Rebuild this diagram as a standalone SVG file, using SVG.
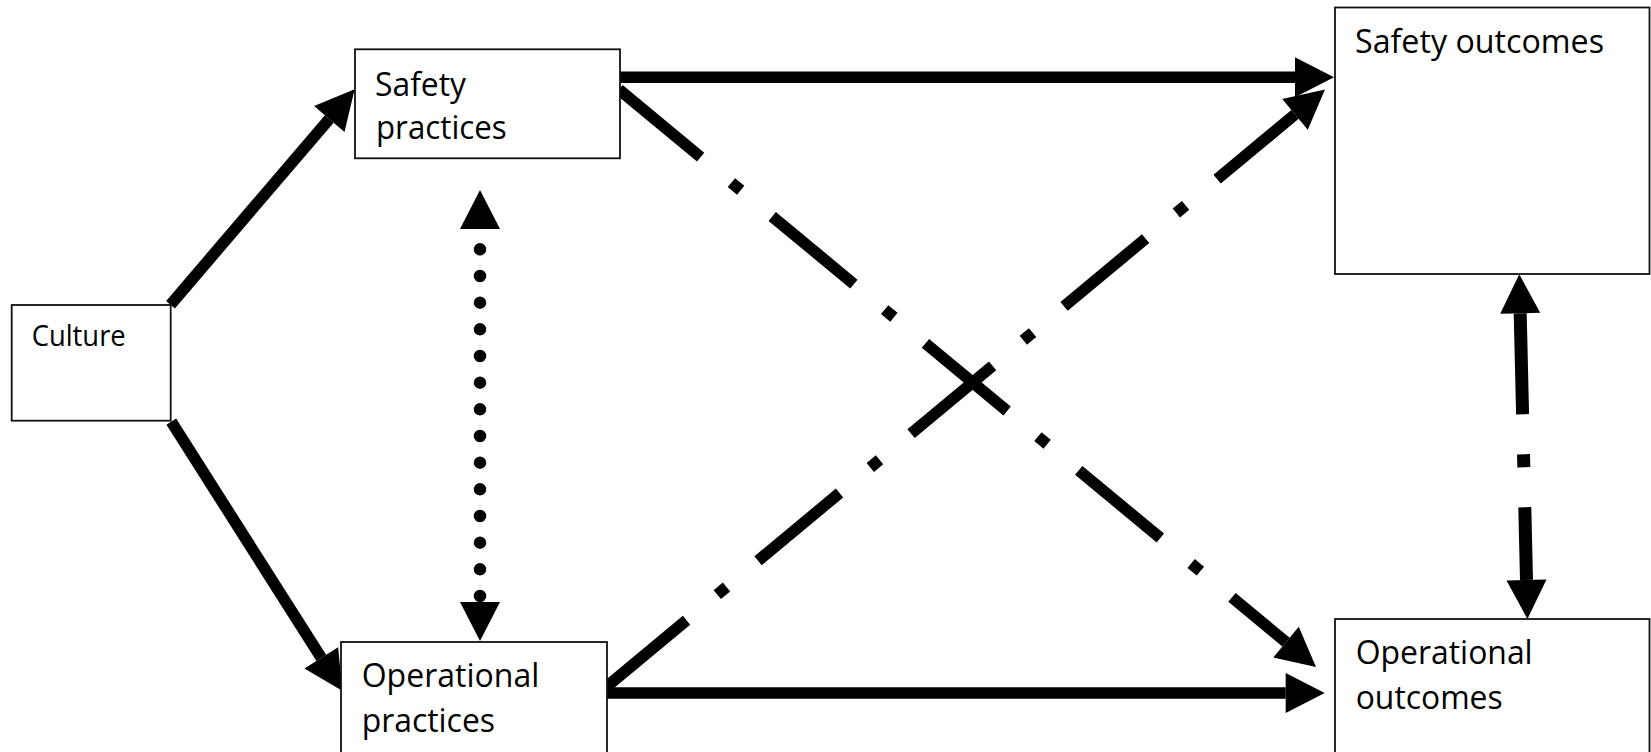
<svg xmlns="http://www.w3.org/2000/svg" width="1651" height="752" viewBox="0 0 1651 752">
  <style>
    .box { fill: #ffffff; stroke: #111111; stroke-width: 1.8; }
    .label { font-family: "Open Sans", "Noto Sans", "Liberation Sans", sans-serif; font-size: 33px; fill: #000000; }
    .small { font-size: 28.5px; }
    .solid { fill: none; stroke: #000000; stroke-width: 11.5; stroke-linecap: butt; }
    .dashdot { fill: none; stroke: #000000; stroke-width: 11.5; stroke-linecap: butt; stroke-dasharray: 106 40 12 41; }
    .dashdot-v { fill: none; stroke: #000000; stroke-width: 13; stroke-linecap: butt; stroke-dasharray: 101 40 13 40; }
    .dotted { fill: none; stroke: #000000; stroke-width: 12.5; stroke-linecap: round; stroke-dasharray: 0 26.67; stroke-dashoffset: -20.3; }
  </style>
  <defs>
    <!-- filled triangular arrowhead; its base sits on the line end -->
    <marker id="arrow" markerUnits="userSpaceOnUse" markerWidth="44" markerHeight="44" refX="0" refY="0" orient="auto-start-reverse" overflow="visible">
      <path d="M0,-20 L39,0 L0,20 Z" fill="#000000"/>
    </marker>
  </defs>

  <rect width="1651" height="752" fill="#ffffff"/>

  <!-- connectors -->
  <g id="connectors">
    <!-- Culture to Safety practices -->
    <path class="solid" d="M170.5,304.7 L329.3,118.9" marker-end="url(#arrow)"/>
    <!-- Culture to Operational practices -->
    <path class="solid" d="M171.3,421.7 L321.3,657.9" marker-end="url(#arrow)"/>
    <!-- Safety practices to Safety outcomes -->
    <path class="solid" d="M620,77.3 L1295,77.3" marker-end="url(#arrow)"/>
    <!-- Operational practices to Operational outcomes -->
    <path class="solid" d="M607,693 L1285.7,693" marker-end="url(#arrow)"/>
    <!-- Safety practices to Operational outcomes (cross path) -->
    <path class="dashdot" d="M619,89.5 L1286,642.1" marker-end="url(#arrow)"/>
    <!-- Operational practices to Safety outcomes (cross path) -->
    <path class="dashdot" d="M605,688 L1295,114.4" marker-end="url(#arrow)"/>
    <!-- Safety practices <-> Operational practices -->
    <path class="dotted" d="M480,229 L480,602" marker-start="url(#arrow)" marker-end="url(#arrow)"/>
    <!-- Safety outcomes <-> Operational outcomes -->
    <path class="dashdot-v" d="M1520.2,313.3 L1526.5,580" marker-start="url(#arrow)" marker-end="url(#arrow)"/>
  </g>

  <g id="culture">
    <rect class="box" x="11.7" y="305" width="159" height="115.7"/>
    <text class="label small" x="31.7" y="345.7" textLength="94" lengthAdjust="spacingAndGlyphs">Culture</text>
  </g>

  <g id="safety-practices">
    <rect class="box" x="355" y="49.3" width="265" height="109"/>
    <text class="label" x="375" y="96" textLength="91" lengthAdjust="spacingAndGlyphs">Safety</text>
    <text class="label" x="376" y="139.3" textLength="130.7" lengthAdjust="spacingAndGlyphs">practices</text>
  </g>

  <g id="operational-practices">
    <rect class="box" x="341" y="642" width="266" height="130"/>
    <text class="label" x="361.7" y="687.3" textLength="177.6" lengthAdjust="spacingAndGlyphs">Operational</text>
    <text class="label" x="361.7" y="731.7" textLength="133.3" lengthAdjust="spacingAndGlyphs">practices</text>
  </g>

  <g id="safety-outcomes">
    <rect class="box" x="1335" y="7.5" width="314.5" height="266.5"/>
    <text class="label" x="1355" y="53.3" textLength="249" lengthAdjust="spacingAndGlyphs">Safety outcomes</text>
  </g>

  <g id="operational-outcomes">
    <rect class="box" x="1335" y="619" width="314.5" height="150"/>
    <text class="label" x="1355.7" y="664.3" textLength="177" lengthAdjust="spacingAndGlyphs">Operational</text>
    <text class="label" x="1355.7" y="709.3" textLength="147" lengthAdjust="spacingAndGlyphs">outcomes</text>
  </g>
</svg>
